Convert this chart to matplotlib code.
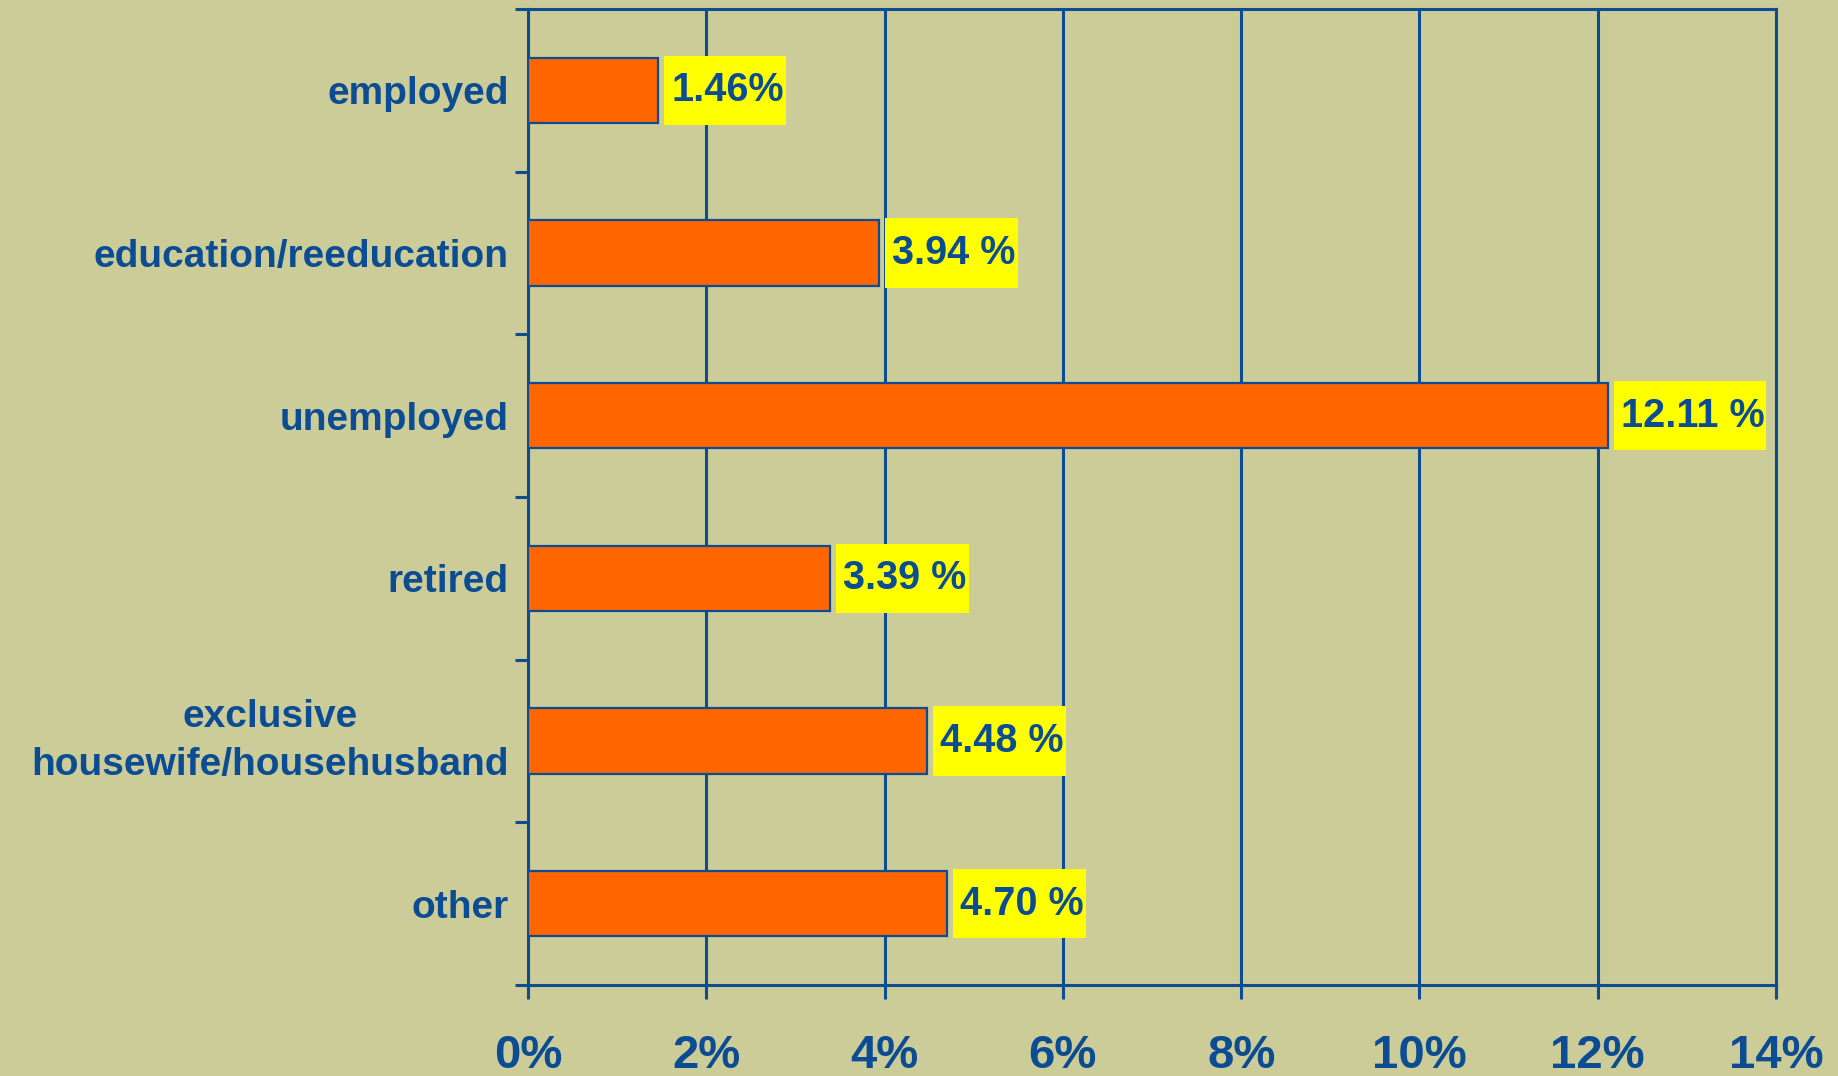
import matplotlib
matplotlib.use("Agg")
from matplotlib import pyplot as plt
from matplotlib.ticker import FixedLocator

categories = ['employed', 'education/reeducation', 'unemployed', 'retired',
              'exclusive\nhousewife/househusband', 'other']
values = [1.46, 3.94, 12.11, 3.39, 4.48, 4.70]
value_labels = ['1.46%', '3.94 %', '12.11 %', '3.39 %', '4.48 %', '4.70 %']
xticks = [0, 2, 4, 6, 8, 10, 12, 14]

bg = '#CCCC99'
blue = '#0B4C93'
orange = '#FF6600'

plt.rcParams['font.family'] = ['Liberation Sans', 'DejaVu Sans']
plt.rcParams['font.weight'] = 'bold'

fig = plt.figure(figsize=(18.38, 10.76), dpi=100, facecolor=bg)
ax = fig.add_axes([0.2873, 0.0846, 0.9663 - 0.2873, 0.9916 - 0.0846])
ax.set_facecolor(bg)
ax.set_xlim(0, 14)
ax.set_ylim(len(categories) - 0.5, -0.5)

y = range(len(categories))
ax.barh(y, values, height=0.4, color=orange, edgecolor=blue, linewidth=1.6, zorder=3)

# value labels on yellow boxes, box width taken from the text size
px = ax.get_window_extent().width / 14.0
gap = 6 / px
texts = []
for i, v in enumerate(values):
    t = ax.text(v + gap + 7 / px, i, value_labels[i], va='center', ha='left', fontsize=28.5,
                fontweight='bold', color=blue, zorder=5)
    texts.append(t)
fig.canvas.draw()
r = fig.canvas.get_renderer()
for i, v in enumerate(values):
    w = texts[i].get_window_extent(r).width
    ax.barh(i, (w + 9) / px, left=v + gap, height=0.425, color='#FFFF00', zorder=4)

ax.set_xticks(xticks)
ax.set_xticklabels([str(t) + '%' for t in xticks], fontsize=34, fontweight='bold', color=blue)
ax.tick_params(axis='x', length=10, width=2.2, color=blue, pad=25)

ax.set_yticks(list(y))
ax.set_yticklabels(categories, fontsize=28, fontweight='bold', color=blue,
                   multialignment='center', linespacing=1.45)
for lab in ax.get_yticklabels():
    if '\n' in lab.get_text():
        lab.set_va('center')
ax.tick_params(axis='y', which='major', length=0, pad=14)
ax.yaxis.set_minor_locator(FixedLocator([k - 0.5 for k in range(len(categories) + 1)]))
ax.tick_params(axis='y', which='minor', length=9.5, width=2.2, color=blue)

ax.grid(axis='x', color=blue, linewidth=2.2, zorder=1)
ax.set_axisbelow(True)
for s in ax.spines.values():
    s.set_color(blue)
    s.set_linewidth(2.2)

fig.savefig('out.png', dpi=100, facecolor=bg)
